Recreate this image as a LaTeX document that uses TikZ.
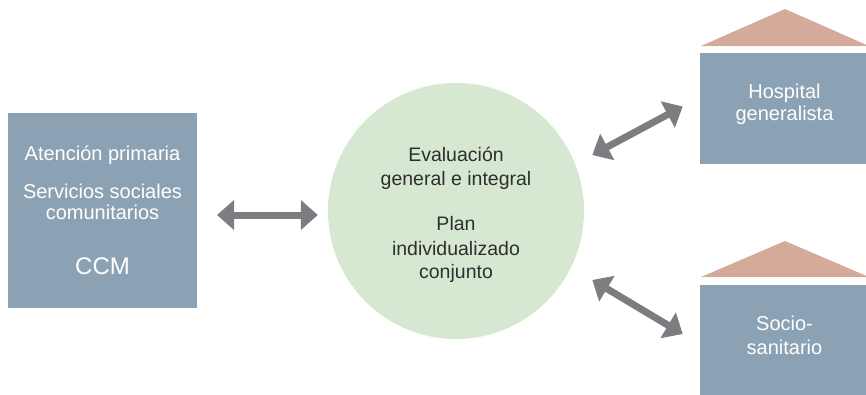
\documentclass[tikz,border=0pt]{standalone}
\usepackage{fontspec}
\setmainfont{Liberation Sans}
\usetikzlibrary{arrows.meta}
\definecolor{boxblue}{HTML}{8BA2B4}
\definecolor{roofc}{HTML}{D4AA9A}
\definecolor{circg}{HTML}{D6E8D2}
\definecolor{arrg}{HTML}{7C7D81}
\definecolor{darktext}{HTML}{2E2E2E}
\begin{document}
\begin{tikzpicture}[x=1pt,y=-1pt,
  box/.style={fill=boxblue, draw=none, inner sep=0pt, outer sep=0pt},
  wtext/.style={text=white, font=\fontsize{20}{22}\selectfont, anchor=base, inner sep=0pt},
  bigtext/.style={text=white, font=\fontsize{24}{28}\selectfont, anchor=base, inner sep=0pt},
  ctext/.style={text=darktext, font=\fontsize{19.5}{24}\selectfont, anchor=base, inner sep=0pt},
  roofst/.style={fill=roofc, draw=none},
  arr/.style={draw=arrg, line width=7pt, {Triangle[length=17pt,width=29pt]}-{Triangle[length=17pt,width=29pt]}}]
\useasboundingbox (0,0) rectangle (866,394);
% boxes
\node[box, minimum width=189pt, minimum height=195pt] (leftbox) at (102.5,210.5) {};
\node[circle, fill=circg, draw=none, minimum size=256pt, inner sep=0pt] (circ) at (456,211) {};
\node[box, minimum width=170pt, minimum height=111pt, anchor=north west] (hosp) at (700,53) {};
\node[box, minimum width=170pt, minimum height=112pt, anchor=north west] (socio) at (700,285) {};
% roofs
\path[roofst] (701,46) -- (785,9) -- (869,46) -- cycle;
\path[roofst] (701,277) -- (785,241) -- (869,277) -- cycle;
% left texts
\node[wtext] (t1) at (102.5,160) {Atención primaria};
\node[wtext] (t2) at (102.5,198) {Servicios sociales};
\node[wtext] (t3) at (102.5,219) {comunitarios};
\node[bigtext] (t4) at (102.5,274) {CCM};
% circle texts
\node[ctext] (c1) at (456,161) {Evaluación};
\node[ctext] (c2) at (456,185) {general e integral};
\node[ctext] (c3) at (456,230) {Plan};
\node[ctext] (c4) at (456,255) {individualizado};
\node[ctext] (c5) at (456,278) {conjunto};
% right texts
\node[wtext] (h1) at (784.5,98) {Hospital};
\node[wtext] (h2) at (784.5,120) {generalista};
\node[wtext] (s1) at (784.5,330) {Socio-};
\node[wtext] (s2) at (784.5,354) {sanitario};
% arrows
\coordinate (u1) at (592.3,155);
\coordinate (u2) at (682.7,106.5);
\coordinate (d1) at (592.3,280);
\coordinate (d2) at (682.7,334);
\draw[arr] ([xshift=20pt,yshift=-4.5pt]leftbox.east) -- ([xshift=-10pt,yshift=-4pt]circ.west);
\draw[arr] (u1) -- (u2);
\draw[arr] (d1) -- (d2);
\end{tikzpicture}
\end{document}
